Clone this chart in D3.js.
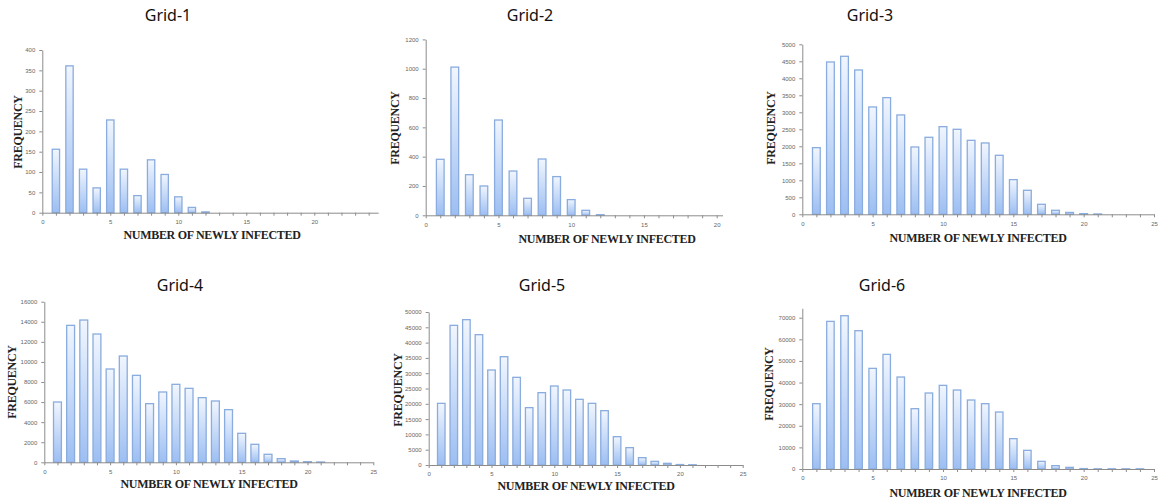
<!DOCTYPE html>
<html>
<head>
<meta charset="utf-8">
<script src="https://cdn.jsdelivr.net/npm/d3@7"></script>
<style>
  body { margin: 0; background: #fff; }
  .tick text { font-family: "Liberation Sans", Arial, sans-serif; font-size: 6px; fill: #666; }
  .domain, .tick line { stroke: #8c8c8c; }
  .title { font-family: "Noto Sans", "Open Sans", sans-serif; font-size: 16px; fill: #111; }
  .axisText { font-family: "Liberation Serif", "Times New Roman", serif; font-weight: bold; font-size: 12px; letter-spacing: -0.3px; fill: #222; }
</style>
</head>
<body>
<div id="chart"></div>
<script>
// Data
var titles = ["Grid-1", "Grid-2", "Grid-3", "Grid-4", "Grid-5", "Grid-6"];
var xLabel = "NUMBER OF NEWLY INFECTED";
var yLabel = "FREQUENCY";

var grid1 = [156, 361, 107, 61, 228, 107, 42, 130, 94, 39, 13, 2];
var grid2 = [382, 1011, 277, 200, 650, 302, 116, 384, 264, 107, 34, 4];
var grid3 = [1960, 4480, 4647, 4245, 3157, 3431, 2922, 1980, 2265, 2578, 2500, 2176, 2098, 1735, 1020, 706, 294, 118, 55, 20, 10];
var grid4 = [6008, 13643, 14174, 12780, 9295, 10589, 8664, 5842, 7004, 7768, 7369, 6440, 6108, 5245, 2888, 1793, 797, 365, 130, 60, 30];
var grid5 = [20150, 45640, 47495, 42590, 31045, 35400, 28650, 18740, 23640, 25817, 24510, 21460, 20150, 17760, 9260, 5665, 2400, 1200, 545, 150, 80];
var grid6 = [30220, 68300, 70920, 63985, 46562, 53038, 42553, 27907, 35153, 38699, 36541, 31915, 30220, 26365, 14030, 8634, 3546, 1540, 770, 200, 100, 100, 100, 100];

var yTicks1 = d3.range(0, 401, 50);
var yTicks2 = d3.range(0, 1201, 200);
var yTicks3 = d3.range(0, 5001, 500);
var yTicks4 = d3.range(0, 16001, 2000);
var yTicks5 = d3.range(0, 50001, 5000);
var yTicks6 = d3.range(0, 70001, 10000);
var xTickLabels = [0, 5, 10, 15, 20, 25];

var series = [grid1, grid2, grid3, grid4, grid5, grid6];
var yTicks = [yTicks1, yTicks2, yTicks3, yTicks4, yTicks5, yTicks6];

// layout of each panel (pixels)
var panels = [
  {x0: 42.3, x1: 378.2, xMax: 24.7, yb: 212.7, yt: 50, yMax: 400, frac: 0.54,
   tx: 168, ty: 21, lx: 212, ly: 239, fx: 18, fy: 132},
  {x0: 425.7, x1: 722.5, xMax: 20.4, yb: 215.3, yt: 39.4, yMax: 1200, frac: 0.53,
   tx: 530, ty: 21, lx: 607, ly: 243, fx: 395, fy: 128},
  {x0: 802.3, x1: 1154, xMax: 25, yb: 214.3, yt: 44.3, yMax: 5000, frac: 0.55,
   tx: 870, ty: 21, lx: 978, ly: 242, fx: 771, fy: 128},
  {x0: 44.3, x1: 373.3, xMax: 25, yb: 462.3, yt: 301.7, yMax: 16000, frac: 0.6,
   tx: 180, ty: 291, lx: 209, ly: 488, fx: 12, fy: 382},
  {x0: 428.7, x1: 742.7, xMax: 25, yb: 465, yt: 312, yMax: 50000, frac: 0.6,
   tx: 542, ty: 291, lx: 586, ly: 490, fx: 398, fy: 390},
  {x0: 802.3, x1: 1154, xMax: 25, yb: 469, yt: 308.3, yMax: 74350, frac: 0.53,
   tx: 882, ty: 291, lx: 978, ly: 497, fx: 769, fy: 384}
];

var svgWidth = 1158;
var svgHeight = 504;

var svg = d3.select("#chart")
  .append("svg")
  .attr("width", svgWidth)
  .attr("height", svgHeight);

// bar gradient
var grad = svg.append("defs").append("linearGradient")
  .attr("id", "barFill")
  .attr("x1", 0).attr("y1", 0).attr("x2", 0).attr("y2", 1);
grad.append("stop").attr("offset", "0%").attr("stop-color", "#f1f6fe");
grad.append("stop").attr("offset", "100%").attr("stop-color", "#9cbef2");

panels.forEach(function(p, i) {
  var values = series[i];
  var data = values.map(function(v, k) { return {k: k + 1, v: v}; });

  var xScale = d3.scaleLinear()
    .domain([0, p.xMax])
    .range([p.x0, p.x1]);

  var yScale = d3.scaleLinear()
    .domain([0, p.yMax])
    .range([p.yb, p.yt]);

  var g = svg.append("g");

  var unit = xScale(1) - xScale(0);
  var bw = unit * p.frac;

  // bars
  g.selectAll("rect")
    .data(data)
    .enter()
    .append("rect")
    .attr("x", d => xScale(d.k) - bw / 2)
    .attr("y", d => yScale(d.v))
    .attr("width", bw)
    .attr("height", d => yScale(0) - yScale(d.v))
    .attr("fill", "url(#barFill)")
    .attr("stroke", "#8aacde")
    .attr("stroke-width", 1.3);

  // x axis: a tick at every integer, labels every 5
  var bottomAxis = d3.axisBottom(xScale)
    .tickValues(d3.range(0, Math.floor(p.xMax) + 1))
    .tickSize(3)
    .tickSizeOuter(0)
    .tickFormat(d => xTickLabels.indexOf(d) >= 0 ? d : "");
  var xg = g.append("g")
    .attr("transform", `translate(0, ${p.yb})`)
    .call(bottomAxis);
  xg.selectAll(".tick text").attr("dy", "0.9em");

  // y axis
  var leftAxis = d3.axisLeft(yScale)
    .tickValues(yTicks[i])
    .tickSize(3)
    .tickSizeOuter(0)
    .tickPadding(4)
    .tickFormat(d3.format("d"));
  g.append("g")
    .attr("transform", `translate(${p.x0}, 0)`)
    .call(leftAxis);

  // titles and axis labels
  g.append("text")
    .attr("class", "title")
    .attr("x", p.tx)
    .attr("y", p.ty)
    .attr("text-anchor", "middle")
    .text(titles[i]);

  g.append("text")
    .attr("class", "axisText")
    .attr("x", p.lx)
    .attr("y", p.ly)
    .attr("text-anchor", "middle")
    .text(xLabel);

  g.append("text")
    .attr("class", "axisText")
    .attr("transform", `translate(${p.fx + 4}, ${p.fy}) rotate(-90)`)
    .attr("text-anchor", "middle")
    .text(yLabel);
});
</script>
</body>
</html>
